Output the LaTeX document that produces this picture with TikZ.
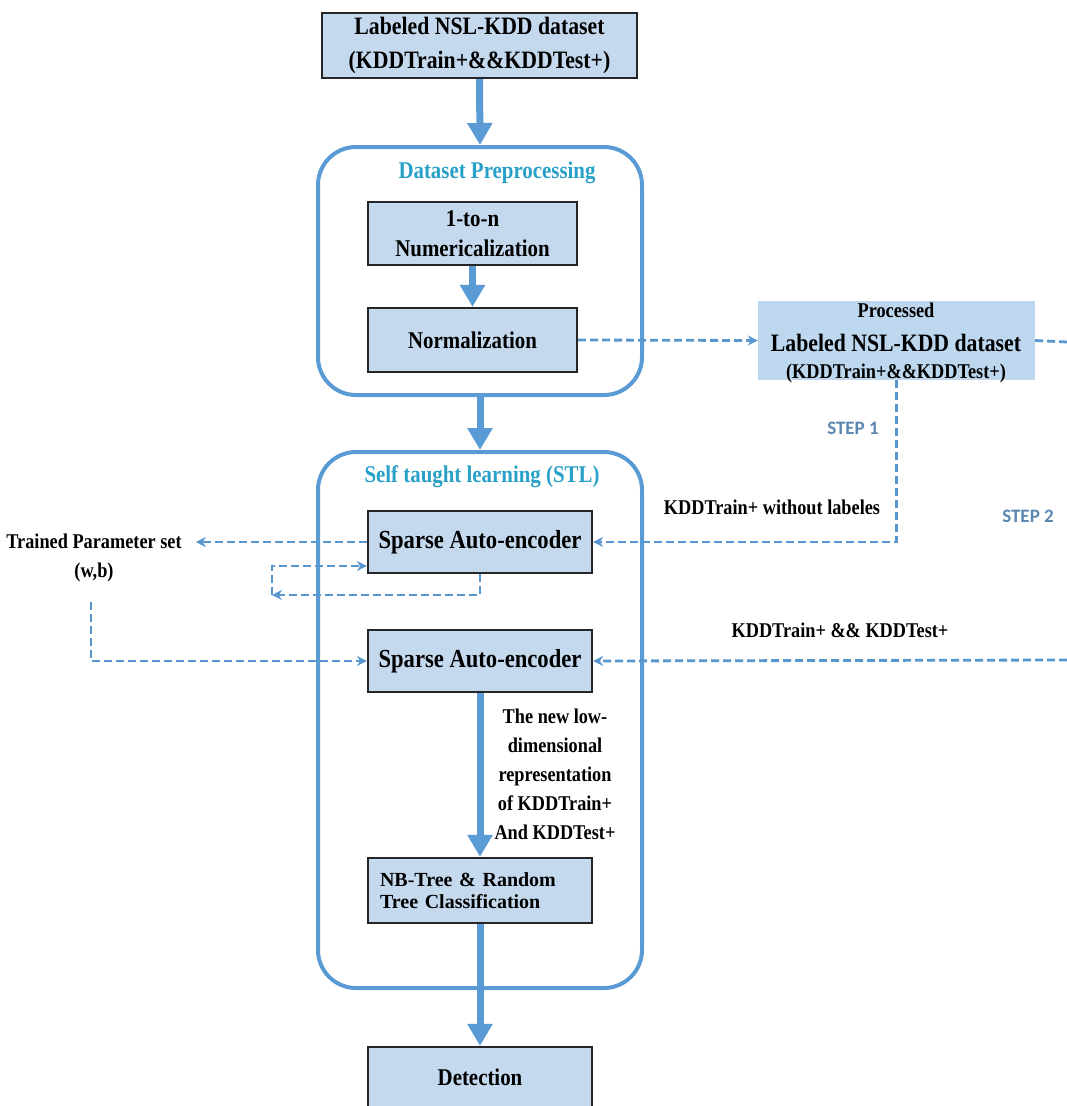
\documentclass[tikz,border=0pt]{standalone}
\usepackage{fontspec}
\setmainfont{Liberation Serif}
\newfontfamily\cond{Liberation Serif}[FakeStretch=0.87]
\newfontfamily\calib{Carlito}
\usetikzlibrary{arrows.meta}
\definecolor{boxfill}{RGB}{197,217,238}
\definecolor{procfill}{RGB}{189,215,238}
\definecolor{flow}{RGB}{91,155,213}
\definecolor{dashc}{RGB}{88,150,208}
\definecolor{grpteal}{RGB}{40,160,200}
\definecolor{stepc}{RGB}{90,135,178}
\tikzset{
  bx/.style={draw=black!85, line width=2.2pt, fill=boxfill, inner sep=0pt, align=center,
    font=\cond\bfseries\fontsize{24}{30}\selectfont},
  grp/.style={draw=flow, line width=4pt, rounded corners=38pt, inner sep=0pt},
  thickarr/.style={draw=flow, line width=7pt, -{Triangle[length=22pt,width=24pt]}},
  dasharr/.style={draw=dashc, line width=2.8pt, dash pattern=on 8pt off 4pt, -{Stealth[length=10pt,width=10pt]}},
  dashln/.style={draw=dashc, line width=2.8pt, dash pattern=on 8pt off 4pt},
  lbl/.style={font=\cond\bfseries\fontsize{21}{29}\selectfont, align=center, inner sep=0pt},
  grplbl/.style={text=grpteal, font=\cond\bfseries\fontsize{24}{30}\selectfont, inner sep=0pt},
  steplbl/.style={text=stepc, font=\calib\bfseries\fontsize{19}{22}\selectfont, inner sep=0pt}
}
\begin{document}
\begin{tikzpicture}[x=1pt,y=-1pt]
\useasboundingbox (0,0) rectangle (1067,1106);
\clip (0,0) rectangle (1067,1106);

% group frames
\node[grp, minimum width=324pt, minimum height=248pt] (pre) at (480,271) {};
\node[grp, minimum width=324pt, minimum height=536pt] (stl) at (480,720) {};
\node[grplbl] (prelbl) at (497,173) {Dataset Preprocessing};
\node[grplbl] (stllbl) at (482,477) {Self taught learning (STL)};

% boxes
\node[bx, minimum width=315pt, minimum height=65pt, font=\cond\bfseries\fontsize{25}{34}\selectfont] (top) at (479.5,45.5)
  {Labeled NSL-KDD dataset\\(KDDTrain+\&\&KDDTest+)};
\node[bx, minimum width=209pt, minimum height=63pt] (onetn) at (472.5,233.5) {1-to-n\\Numericalization};
\node[bx, minimum width=209pt, minimum height=64pt] (norm) at (472.5,340) {Normalization};
\node[fill=procfill, minimum width=277pt, minimum height=79pt, inner sep=0pt] (proc) at (896.5,340.5) {};
\node[lbl] (procA) at (896,310) {Processed};
\node[lbl, font=\cond\bfseries\fontsize{25}{30}\selectfont] (procB) at (896,343) {Labeled NSL-KDD dataset};
\node[lbl] (procC) at (896,373) {(KDDTrain+\&\&KDDTest+)};

\node[bx, minimum width=224pt, minimum height=62pt, font=\cond\bfseries\fontsize{26}{30}\selectfont] (sae1) at (480,542) {Sparse Auto-encoder};
\node[bx, minimum width=224pt, minimum height=62pt, font=\cond\bfseries\fontsize{26}{30}\selectfont] (sae2) at (480,661) {Sparse Auto-encoder};
\node[bx, minimum height=65pt, text width=200pt, inner xsep=12pt, align=left,
  font=\bfseries\fontsize{20}{22}\selectfont] (nb) at (480,890.5) {NB-Tree \& Random\\Tree Classification};
\node[bx, minimum width=224pt, minimum height=63pt] (det) at (480,1078.5) {};
\node[lbl, font=\cond\bfseries\fontsize{24}{30}\selectfont] (detlbl) at (480,1077) {Detection};

% labels
\node[lbl, inner xsep=14pt] (tp) at (94,558) {Trained Parameter set\\(w,b)};
\node[lbl] (wol) at (772,507) {KDDTrain+ without labeles};
\node[lbl] (both) at (840,630) {KDDTrain+ \&\& KDDTest+};
\node[lbl, font=\cond\bfseries\fontsize{21}{29}\selectfont] (lowdim) at (555,774)
  {The new low-\\dimensional\\representation\\of KDDTrain+\\And KDDTest+};
\node[steplbl] (s1) at (853,428) {STEP 1};
\node[steplbl] (s2) at (1028,516) {STEP 2};

% thick flow arrows
\draw[thickarr] (top.south) -- (pre.north);
\draw[thickarr] (onetn.south) -- (norm.north);
\draw[thickarr] (pre.south) -- (stl.north);
\draw[thickarr] (sae2.south) -- (nb.north);
\draw[thickarr] (nb.south) -- (det.north);

% dashed connectors
\coordinate (edge1) at (1067,342);
\coordinate (edge2) at (1067,660);
\coordinate (loopA) at (272,595);
\coordinate (wbdown) at (91,602);
\draw[dasharr] (norm.east) -- (proc.west);
\draw[dashln] (proc.east) -- (edge1);
\draw[dasharr] (proc.south) |- (sae1.east);
\draw[dasharr] (edge2) -- (sae2.east);
\draw[dasharr] (sae1.west) -- (tp.east |- sae1.west);
\draw[dasharr] (sae1.south) |- (loopA);
\draw[dasharr] (loopA) |- ([yshift=-24pt]sae1.west);
\draw[dasharr] (wbdown) |- (sae2.west);
\end{tikzpicture}
\end{document}
